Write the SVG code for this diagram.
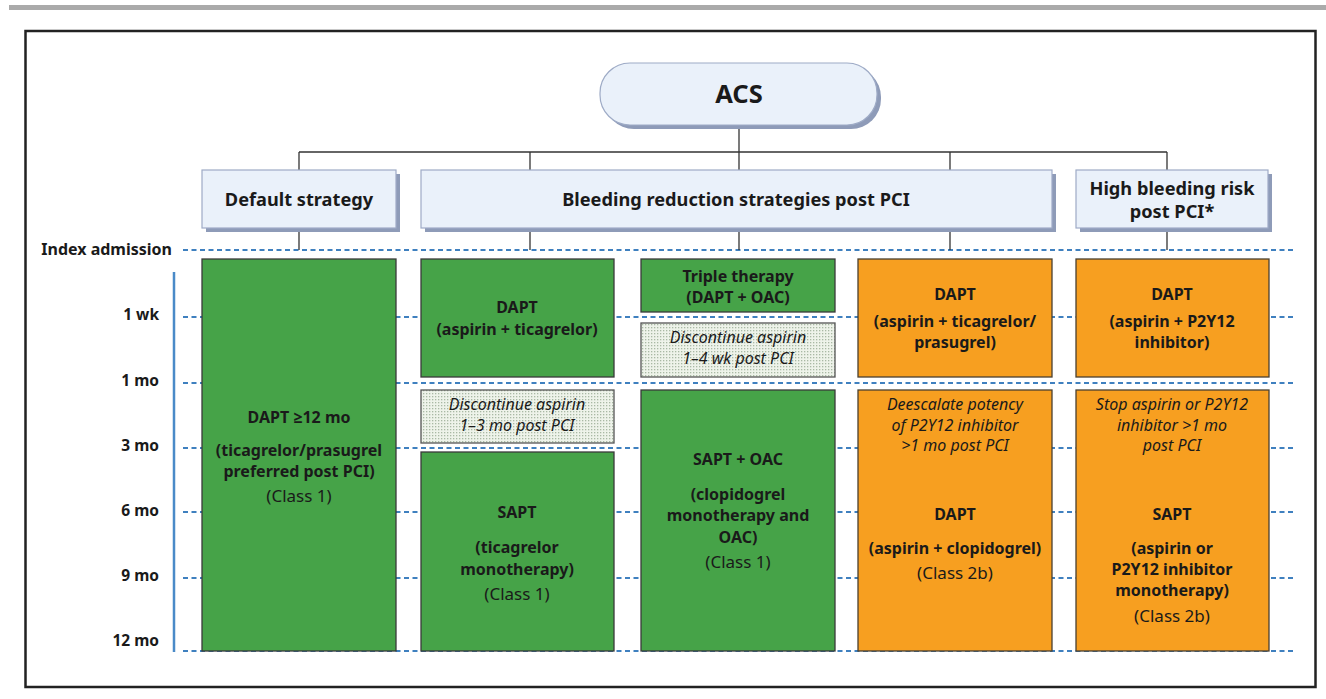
<svg xmlns="http://www.w3.org/2000/svg" width="1326" height="699" viewBox="0 0 1326 699">
<defs>
<pattern id="dots" width="3" height="3" patternUnits="userSpaceOnUse">
<rect width="3" height="3" fill="#eef3ea"/>
<rect x="0" y="0" width="1.3" height="1.3" fill="#a9b9a4"/>
</pattern>
</defs>
<style>
text{font-family:"Noto Sans","Open Sans","DejaVu Sans",sans-serif;fill:#1a1a1a;text-anchor:middle}
.b{font-weight:700;font-size:16px}
.r{font-weight:400;font-size:17px}
.i{font-style:italic;font-weight:400;font-size:16px}
.hd{font-weight:700;font-size:18.2px}
.tk{font-weight:700;font-size:15.5px;text-anchor:end}
.hbox{fill:#eaf1fa;stroke:#9eabc6;stroke-width:1.2}
.sh{fill:#8e9bb8}
.g{fill:#46a348;stroke:#3a3a3a;stroke-width:1.3}
.o{fill:#f79f20;stroke:#4a4030;stroke-width:1.3}
.d{fill:url(#dots);stroke:#555;stroke-width:1.3}
.dash{stroke:#3f80bf;stroke-width:2;stroke-dasharray:5 3.5;fill:none}
.conn{stroke:#333;stroke-width:1.3;fill:none}
</style>
<rect x="9" y="5" width="1317" height="5" fill="#aaaaaa"/>
<rect x="25.5" y="31" width="1290" height="656" fill="#ffffff" stroke="#222" stroke-width="2.5"/>

<g id="timeline">
<line x1="174" y1="272" x2="174" y2="652" stroke="#4a8ac8" stroke-width="2.5"/>
<line class="dash" x1="183" y1="250" x2="1296" y2="250"/>
<line class="dash" x1="183" y1="317" x2="1296" y2="317"/>
<line class="dash" x1="183" y1="383" x2="1296" y2="383"/>
<line class="dash" x1="183" y1="448" x2="1296" y2="448"/>
<line class="dash" x1="183" y1="512" x2="1296" y2="512"/>
<line class="dash" x1="183" y1="578" x2="1296" y2="578"/>
<line class="dash" x1="183" y1="651" x2="1296" y2="651"/>
<text class="tk" x="172" y="255" style="font-size:16px">Index admission</text>
<text class="tk" x="159" y="320">1 wk</text>
<text class="tk" x="159" y="386">1 mo</text>
<text class="tk" x="159" y="451">3 mo</text>
<text class="tk" x="159" y="516">6 mo</text>
<text class="tk" x="159" y="581">9 mo</text>
<text class="tk" x="159" y="646">12 mo</text>
</g>

<g id="connectors">
<line class="conn" x1="739" y1="125" x2="739" y2="152"/>
<line class="conn" x1="299" y1="152" x2="1167" y2="152"/>
<line class="conn" x1="299" y1="152" x2="299" y2="250"/>
<line class="conn" x1="530" y1="152" x2="530" y2="250"/>
<line class="conn" x1="739" y1="152" x2="739" y2="250"/>
<line class="conn" x1="950" y1="152" x2="950" y2="250"/>
<line class="conn" x1="1167" y1="152" x2="1167" y2="250"/>
</g>

<g id="acs">
<rect class="sh" x="604" y="67" width="277" height="62" rx="30"/>
<rect class="hbox" x="600" y="63" width="277" height="62" rx="30"/>
<text x="739" y="103" style="font-weight:700;font-size:25.5px">ACS</text>
</g>

<g id="default-strategy">
<rect class="sh" x="206" y="174" width="194" height="58"/>
<rect class="hbox" x="202" y="170" width="194" height="58"/>
<text class="hd" x="299" y="206">Default strategy</text>
</g>

<g id="bleeding-reduction">
<rect class="sh" x="425" y="174" width="631" height="58"/>
<rect class="hbox" x="421" y="170" width="631" height="58"/>
<text class="hd" x="736" y="206">Bleeding reduction strategies post PCI</text>
</g>

<g id="high-bleeding-risk">
<rect class="sh" x="1080" y="174" width="192" height="58"/>
<rect class="hbox" x="1076" y="170" width="192" height="58"/>
<text class="hd" x="1172" y="195">High bleeding risk</text>
<text class="hd" x="1172" y="218">post PCI*</text>
</g>

<g id="col1-dapt12">
<rect class="g" x="202" y="259" width="194" height="392"/>
<text class="b" x="299" y="423">DAPT ≥12 mo</text>
<text class="b" x="299" y="456">(ticagrelor/prasugrel</text>
<text class="b" x="299" y="477">preferred post PCI)</text>
<text class="r" x="299" y="502">(Class 1)</text>
</g>

<g id="col2-dapt">
<rect class="g" x="421" y="259" width="193" height="118"/>
<text class="b" x="517" y="313">DAPT</text>
<text class="b" x="517" y="335">(aspirin + ticagrelor)</text>
</g>
<g id="col2-discontinue">
<rect class="d" x="421" y="390" width="193" height="53"/>
<text class="i" x="517" y="410">Discontinue aspirin</text>
<text class="i" x="517" y="431">1–3 mo post PCI</text>
</g>
<g id="col2-sapt">
<rect class="g" x="421" y="452" width="193" height="199"/>
<text class="b" x="517" y="518">SAPT</text>
<text class="b" x="517" y="553">(ticagrelor</text>
<text class="b" x="517" y="575">monotherapy)</text>
<text class="r" x="517" y="600">(Class 1)</text>
</g>

<g id="col3-triple">
<rect class="g" x="641" y="259" width="194" height="53"/>
<text class="b" x="738" y="282">Triple therapy</text>
<text class="b" x="738" y="303">(DAPT + OAC)</text>
</g>
<g id="col3-discontinue">
<rect class="d" x="641" y="323" width="194" height="54"/>
<text class="i" x="738" y="343">Discontinue aspirin</text>
<text class="i" x="738" y="364">1–4 wk post PCI</text>
</g>
<g id="col3-sapt-oac">
<rect class="g" x="641" y="390" width="194" height="261"/>
<text class="b" x="738" y="465">SAPT + OAC</text>
<text class="b" x="738" y="500">(clopidogrel</text>
<text class="b" x="738" y="521">monotherapy and</text>
<text class="b" x="738" y="543">OAC)</text>
<text class="r" x="738" y="568">(Class 1)</text>
</g>

<g id="col4-dapt">
<rect class="o" x="858" y="259" width="194" height="118"/>
<text class="b" x="955" y="300">DAPT</text>
<text class="b" x="955" y="327">(aspirin + ticagrelor/</text>
<text class="b" x="955" y="348">prasugrel)</text>
</g>
<g id="col4-deescalate">
<rect class="o" x="858" y="390" width="194" height="261"/>
<text class="i" x="955" y="410">Deescalate potency</text>
<text class="i" x="955" y="431">of P2Y12 inhibitor</text>
<text class="i" x="955" y="451">&gt;1 mo post PCI</text>
<text class="b" x="955" y="520">DAPT</text>
<text class="b" x="955" y="554">(aspirin + clopidogrel)</text>
<text class="r" x="955" y="579">(Class 2b)</text>
</g>

<g id="col5-dapt">
<rect class="o" x="1076" y="259" width="193" height="118"/>
<text class="b" x="1172" y="300">DAPT</text>
<text class="b" x="1172" y="327">(aspirin + P2Y12</text>
<text class="b" x="1172" y="348">inhibitor)</text>
</g>
<g id="col5-stop">
<rect class="o" x="1076" y="390" width="193" height="261"/>
<text class="i" x="1172" y="410">Stop aspirin or P2Y12</text>
<text class="i" x="1172" y="431">inhibitor &gt;1 mo</text>
<text class="i" x="1172" y="451">post PCI</text>
<text class="b" x="1172" y="520">SAPT</text>
<text class="b" x="1172" y="554">(aspirin or</text>
<text class="b" x="1172" y="575">P2Y12 inhibitor</text>
<text class="b" x="1172" y="596">monotherapy)</text>
<text class="r" x="1172" y="622">(Class 2b)</text>
</g>
</svg>
